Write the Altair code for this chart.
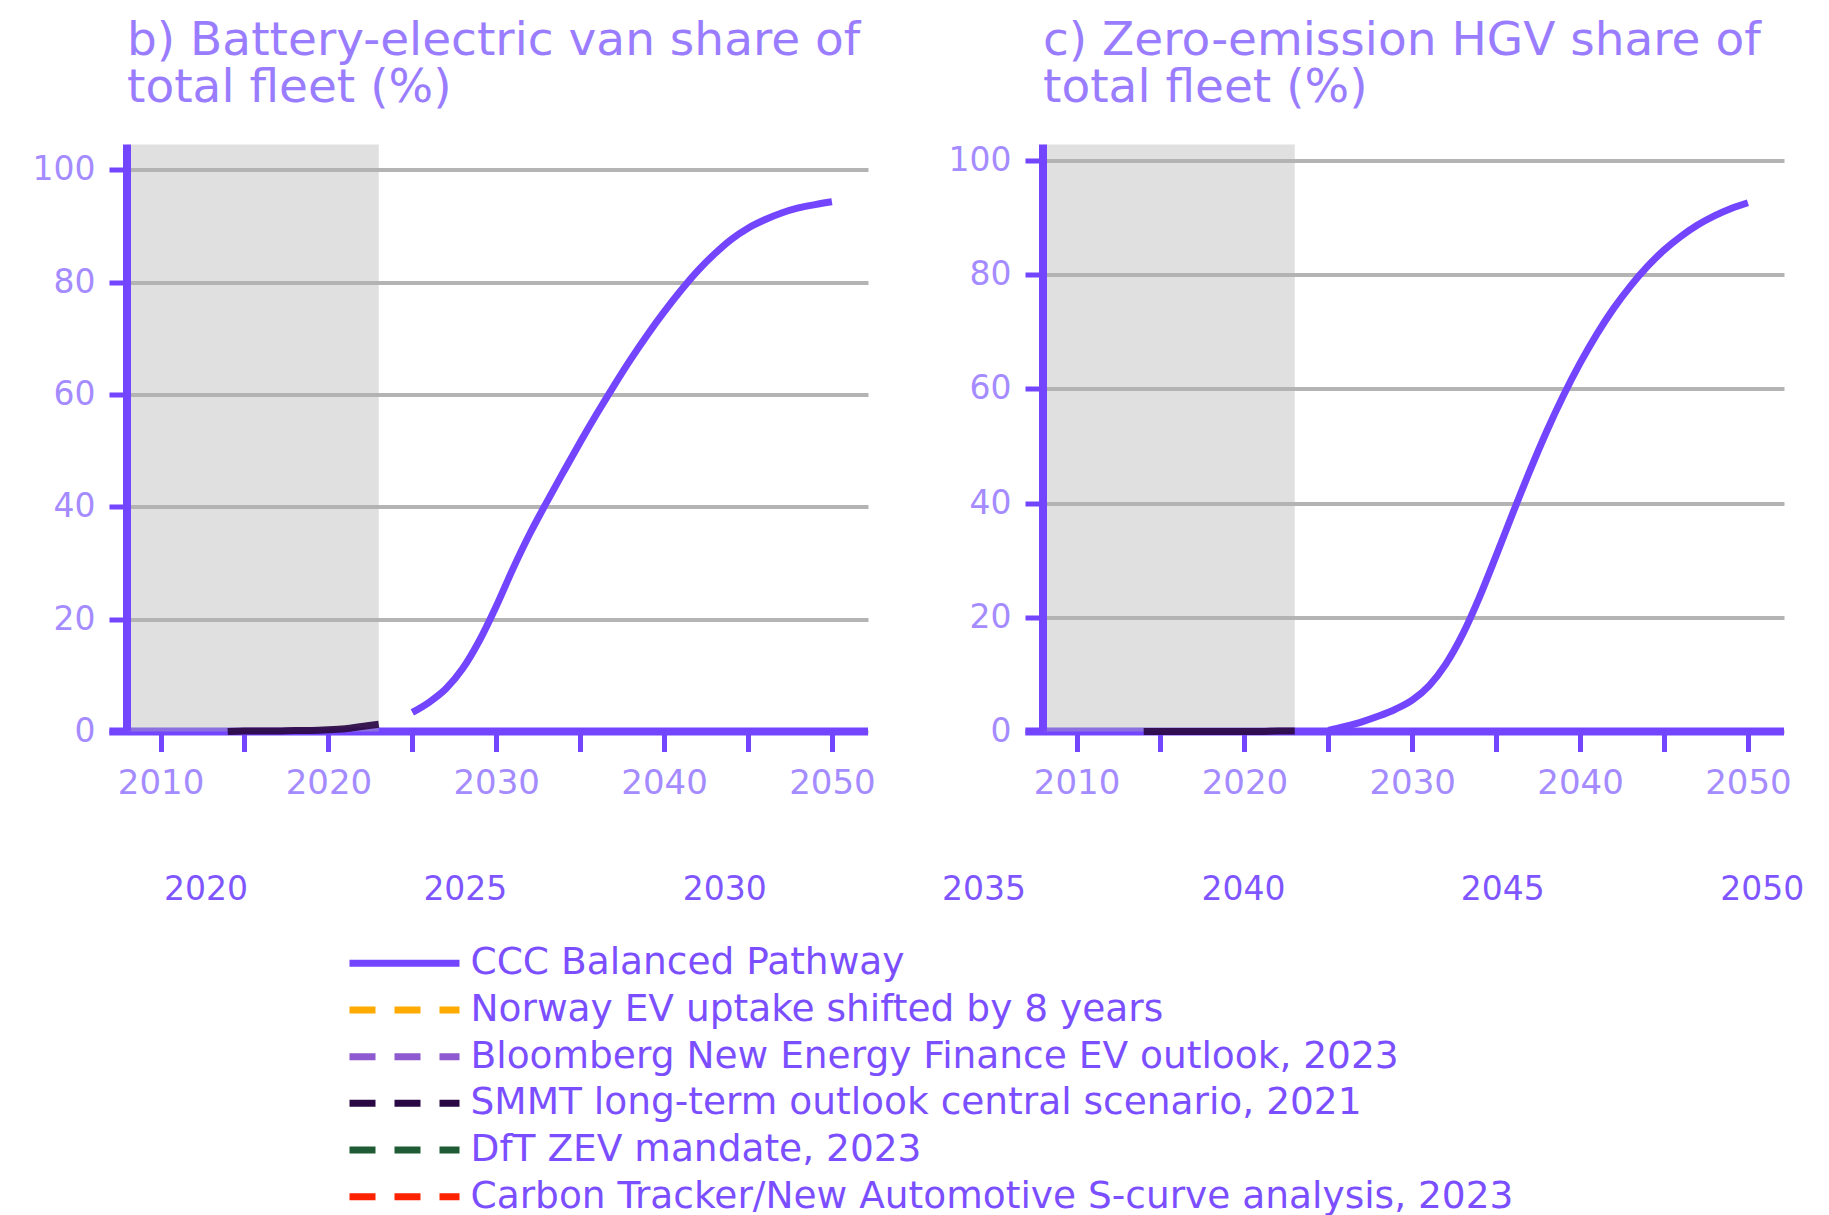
import altair as alt
import pandas as pd

FONT = "DejaVu Sans"
PURPLE = "#7345FF"
TICK_LABEL = "#A48BFF"
TITLE_COLOR = "#9A7DFF"
BOTTOM_LABEL = "#7E55FF"
LEGEND_TEXT = "#7B4FFF"

# ---- data ----
series_names = [
    "CCC Balanced Pathway",
    "Norway EV uptake shifted by 8 years",
    "Bloomberg New Energy Finance EV outlook, 2023",
    "SMMT long-term outlook central scenario, 2021",
    "DfT ZEV mandate, 2023",
    "Carbon Tracker/New Automotive S-curve analysis, 2023",
]
series_colors = ["#7345FF", "#FFAA00", "#8E5AD0", "#2A0844", "#1F5C35", "#FF2200"]
series_dash = [[1, 0], [26, 19], [26, 19], [26, 19], [26, 19], [26, 19]]

ccc_years = list(range(2025, 2051))
van_ccc = [3.4, 5.2, 7.6, 11.2, 16.2, 22.3, 29.0, 35.2, 40.8, 46.2, 51.5, 56.6, 61.5,
           66.2, 70.6, 74.7, 78.5, 82.0, 85.0, 87.6, 89.6, 91.1, 92.3, 93.2, 93.8, 94.3]
hgv_ccc = [0.2, 0.9, 1.7, 2.7, 3.9, 5.5, 8.0, 11.8, 17.0, 23.5, 30.8, 38.3, 45.6,
           52.5, 58.8, 64.5, 69.6, 74.1, 78.0, 81.4, 84.3, 86.7, 88.7, 90.3, 91.6, 92.6]

smmt_years = list(range(2014, 2024))
van_smmt = [0.0, 0.1, 0.1, 0.1, 0.2, 0.2, 0.3, 0.5, 0.9, 1.3]
hgv_smmt = [0.0, 0.0, 0.0, 0.0, 0.0, 0.0, 0.0, 0.0, 0.1, 0.1]

history_band = [2008, 2023]          # shaded historical period
x_domain = [2008, 2052.15]
x_axis_extent = [2006.95, 2052.15]
x_ticks = [2010, 2015, 2020, 2025, 2030, 2035, 2040, 2045, 2050]
y_ticks = [0, 20, 40, 60, 80, 100]
bottom_years = [2020, 2025, 2030, 2035, 2040, 2045, 2050]


def panel(title_lines, ccc_vals, smmt_vals, ymax):
    lines_df = pd.concat([
        pd.DataFrame({"year": smmt_years, "value": smmt_vals, "series": series_names[3]}),
        pd.DataFrame({"year": ccc_years, "value": ccc_vals, "series": series_names[0]}),
    ])
    xs = alt.Scale(domain=x_domain, nice=False, zero=False)
    ys = alt.Scale(domain=[0, ymax], nice=False)
    color = alt.Color("series:N", scale=alt.Scale(domain=series_names, range=series_colors), legend=None)

    x_axis = alt.Axis(values=x_ticks, format="d",
                      labelExpr="datum.value % 10 == 0 ? datum.label : ''",
                      domain=False, tickSize=20, tickWidth=5, tickColor=PURPLE,
                      labelPadding=15, labelFontSize=34, labelColor=TICK_LABEL, labelFont=FONT,
                      grid=False, title=None)
    y_axis = alt.Axis(values=y_ticks, domain=False, tickSize=18, tickWidth=5, tickColor=PURPLE,
                      labelPadding=14, labelFontSize=33, labelColor=TICK_LABEL, labelFont=FONT,
                      grid=True, gridColor="#B4B4B4", gridWidth=4, title=None)

    xaxis_df = pd.DataFrame({"x": [x_axis_extent[0]], "x2": [x_axis_extent[1]], "y": [0]})
    xaxis_rule = alt.Chart(xaxis_df).mark_rule(color=PURPLE, strokeWidth=8).encode(
        x=alt.X("x:Q", scale=xs, axis=x_axis),
        x2="x2:Q",
        y=alt.Y("y:Q", scale=ys, axis=y_axis),
    )

    band_df = pd.DataFrame({"start": [history_band[0]], "end": [history_band[1]],
                            "lo": [0], "hi": [ymax]})
    band = alt.Chart(band_df).mark_rect(color="#B2B2B2", opacity=0.4).encode(
        x=alt.X("start:Q", scale=xs), x2="end:Q",
        y=alt.Y("lo:Q", scale=ys), y2="hi:Q")

    smmt_line = alt.Chart(lines_df[lines_df.series == series_names[3]]).mark_line(
        strokeWidth=7, interpolate="monotone", opacity=0.92).encode(
        x=alt.X("year:Q", scale=xs), y=alt.Y("value:Q", scale=ys), color=color)

    yaxis_df = pd.DataFrame({"x": [x_domain[0]], "lo": [0], "hi": [ymax]})
    yaxis_rule = alt.Chart(yaxis_df).mark_rule(color=PURPLE, strokeWidth=8).encode(
        x=alt.X("x:Q", scale=xs), y=alt.Y("lo:Q", scale=ys), y2="hi:Q")

    ccc_line = alt.Chart(lines_df[lines_df.series == series_names[0]]).mark_line(
        strokeWidth=7, interpolate="monotone").encode(
        x=alt.X("year:Q", scale=xs), y=alt.Y("value:Q", scale=ys), color=color)

    return alt.layer(xaxis_rule, band, smmt_line, yaxis_rule, ccc_line).properties(
        width=741, height=587,
        title=alt.TitleParams(text=title_lines, anchor="start", frame="group",
                              fontSize=47, lineHeight=47, font=FONT, fontWeight="normal",
                              color=TITLE_COLOR, offset=29),
    )


panel_b = panel(["b) Battery-electric van share of", "total fleet (%)"], van_ccc, van_smmt, 104.5)
panel_c = panel(["c) Zero-emission HGV share of", "total fleet (%)"], hgv_ccc, hgv_smmt, 102.8)

bottom = alt.Chart(pd.DataFrame({"year": bottom_years})).mark_tick(opacity=0, size=1).encode(
    x=alt.X("year:Q", scale=alt.Scale(domain=[2018.487, 2050.41], nice=False, zero=False),
            axis=alt.Axis(values=bottom_years, format="d", domain=False, ticks=False, grid=False,
                          labelBaseline="middle", labelPadding=51, labelFontSize=33,
                          labelColor=BOTTOM_LABEL, labelFont=FONT, title=None))
).properties(width=1656, height=1)

leg_df = pd.DataFrame({"series": series_names})
leg_y = alt.Y("series:N", sort=series_names, scale=alt.Scale(type="point", padding=0.25), axis=None)
leg_sym = alt.Chart(leg_df).mark_rule(strokeWidth=7).encode(
    y=leg_y, x=alt.value(222.5), x2=alt.value(332.5),
    color=alt.Color("series:N", scale=alt.Scale(domain=series_names, range=series_colors), legend=None),
    strokeDash=alt.StrokeDash("series:N", scale=alt.Scale(domain=series_names, range=series_dash), legend=None),
)
leg_txt = alt.Chart(leg_df).mark_text(align="left", baseline="middle", fontSize=37.5, font=FONT,
                                      color=LEGEND_TEXT).encode(
    y=leg_y, x=alt.value(343.5), text="series:N")
legend_chart = alt.layer(leg_sym, leg_txt).properties(width=1400, height=257)

top = alt.hconcat(panel_b, panel_c, spacing=175, bounds="flush")
chart = alt.vconcat(top, bottom, legend_chart, spacing=37).properties(
    padding={"left": 24, "right": 5, "top": 8.5, "bottom": 0}
).configure(font=FONT).configure_view(strokeWidth=0, stroke="transparent")

chart.save("out.html", embed_options={"renderer": "svg", "actions": False})
